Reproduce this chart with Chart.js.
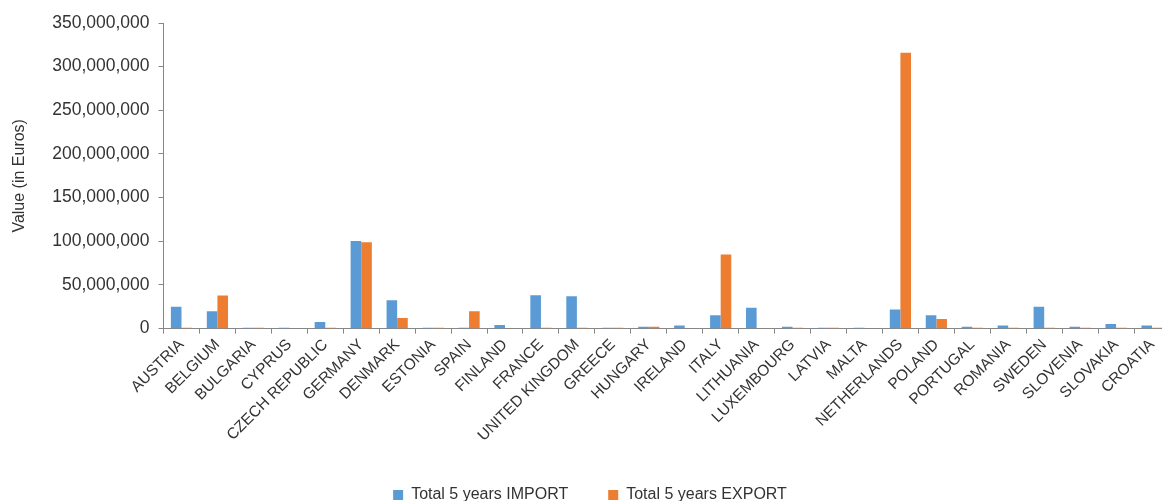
<!DOCTYPE html>
<html>
<head>
<meta charset="utf-8">
<script src="https://cdn.jsdelivr.net/npm/chart.js@4"></script>
<style>
  html, body { margin: 0; padding: 0; background: #fff; overflow: hidden; }
  #wrap { width: 1170px; height: 501px; }
</style>
</head>
<body>
<div id="wrap"><canvas id="chart" width="1170" height="501"></canvas></div>
<script>
const countries = ['AUSTRIA', 'BELGIUM', 'BULGARIA', 'CYPRUS', 'CZECH REPUBLIC', 'GERMANY', 'DENMARK',
    'ESTONIA', 'SPAIN', 'FINLAND', 'FRANCE', 'UNITED KINGDOM', 'GREECE', 'HUNGARY', 'IRELAND',
    'ITALY', 'LITHUANIA', 'LUXEMBOURG', 'LATVIA', 'MALTA', 'NETHERLANDS', 'POLAND', 'PORTUGAL',
    'ROMANIA', 'SWEDEN', 'SLOVENIA', 'SLOVAKIA', 'CROATIA'];

// values in euros
const importTotals = [25000000, 20000000, 1000000, 1000000, 7700000, 100300000, 32500000,
    1000000, 1000000, 4200000, 38300000, 37000000, 1000000, 2300000, 3500000,
    15300000, 24000000, 2300000, 1000000, 1000000, 22000000, 15300000, 2300000,
    3500000, 25000000, 2300000, 5400000, 3500000];
const exportTotals = [1000000, 38000000, 1000000, 0, 1000000, 99000000, 12300000,
    1000000, 20000000, 0, 1000000, 1000000, 1000000, 2300000, 0,
    85000000, 0, 1000000, 1000000, 0, 316000000, 11000000, 1000000,
    1000000, 1000000, 1000000, 1000000, 1000000];

const yTicks = { min: 0, max: 350000000, step: 50000000 };

const font = "'Liberation Sans', Arial, sans-serif";
const textColor = '#333333';

const ctx = document.getElementById('chart').getContext('2d');
new Chart(ctx, {
    type: 'bar',
    data: {
        labels: countries,
        datasets: [{
            label: 'Total 5 years IMPORT',
            data: importTotals,
            backgroundColor: '#5B9BD5',
            categoryPercentage: 0.59,
            barPercentage: 1
        }, {
            label: 'Total 5 years EXPORT',
            data: exportTotals,
            backgroundColor: '#ED7D31',
            categoryPercentage: 0.59,
            barPercentage: 1
        }]
    },
    options: {
        responsive: false,
        animation: false,
        layout: {
            padding: { top: 23, left: 10, right: 0, bottom: -12 }
        },
        plugins: {
            legend: {
                position: 'bottom',
                labels: {
                    boxWidth: 10,
                    boxHeight: 10,
                    padding: 40,
                    color: textColor,
                    font: { family: font, size: 16 }
                }
            },
            tooltip: { enabled: false }
        },
        scales: {
            y: {
                min: yTicks.min,
                max: yTicks.max,
                ticks: {
                    stepSize: yTicks.step,
                    color: textColor,
                    padding: 9,
                    font: { family: font, size: 17.5 },
                    callback: v => v.toLocaleString('en-US')
                },
                grid: {
                    drawOnChartArea: false,
                    drawTicks: true,
                    tickLength: 5,
                    color: '#868686'
                },
                border: { color: '#868686' },
                title: {
                    display: true,
                    text: 'Value (in Euros)',
                    color: textColor,
                    font: { family: font, size: 16 },
                    padding: { top: 0, bottom: 14 }
                }
            },
            x: {
                ticks: {
                    color: textColor,
                    minRotation: 45,
                    maxRotation: 45,
                    autoSkip: false,
                    padding: 2,
                    font: { family: font, size: 15.5 }
                },
                grid: {
                    offset: true,
                    drawOnChartArea: false,
                    drawTicks: true,
                    tickLength: 5,
                    color: '#868686'
                },
                border: { color: '#868686' }
            }
        }
    }
});
</script>
</body>
</html>
